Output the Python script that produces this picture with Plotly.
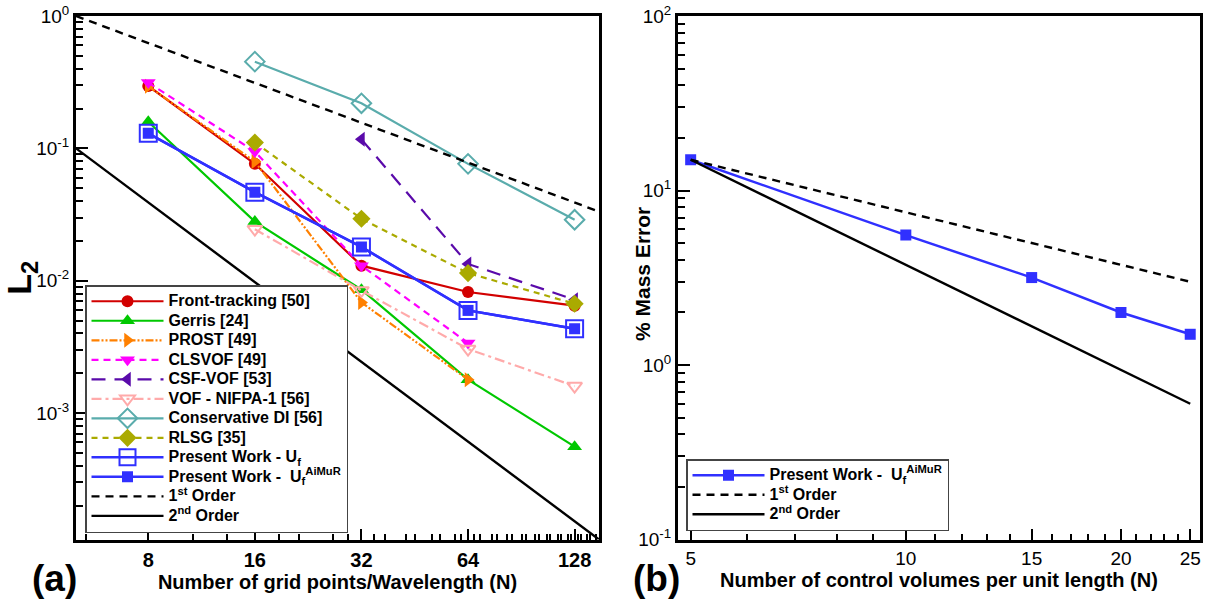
import math
import plotly.graph_objects as go

# ---------------- Panel (a): L2 error vs. grid points per wavelength ----------------
grid_n = [8, 16, 32, 64, 128]
front_tracking = [0.296, 0.0765, 0.0130, 0.00822, 0.00648]
gerris = [0.159, 0.0280, 0.00855, 0.00179, 0.000558]
prost_n = [8, 16, 32, 64]
prost = [0.295, 0.0795, 0.00686, 0.00179]
clsvof_n = [8, 16, 32, 64]
clsvof = [0.314, 0.0946, 0.0130, 0.00339]
csf_vof_n = [32, 64, 128]
csf_vof = [0.117, 0.0134, 0.00719]
nifpa_n = [16, 32, 64, 128]
vof_nifpa = [0.0245, 0.00845, 0.00305, 0.00160]
cons_di_n = [16, 32, 64, 128]
cons_di = [0.452, 0.219, 0.0764, 0.0289]
rlsg_n = [16, 32, 64, 128]
rlsg = [0.1106, 0.0294, 0.01143, 0.0067]
present_uf = [0.130, 0.0467, 0.0180, 0.00597, 0.00434]
present_uf_aimur = [0.130, 0.0467, 0.0180, 0.00597, 0.00434]
order_n_a = [5, 150]
first_order_a = [1.0, 0.0333]
second_order_a = [0.1, 0.000111]

x_a_ticks = [8, 16, 32, 64, 128]
x_a_labels = ["8", "16", "32", "64", "128"]
y_a_decades = [1e-3, 1e-2, 1e-1, 1.0]
y_a_labels = ["10<sup>-3</sup>", "10<sup>-2</sup>", "10<sup>-1</sup>", "10<sup>0</sup>"]

# ---------------- Panel (b): mass error vs. control volumes ----------------
cv_n = [5, 10, 15, 20, 25]
mass_error = [15.0, 5.55, 3.17, 2.0, 1.5]
order_n_b = [5, 25]
first_order_b = [15.0, 3.0]
second_order_b = [15.0, 0.6]

x_b_ticks = [5, 10, 15, 20, 25]
y_b_decades = [0.1, 1.0, 10.0, 100.0]
y_b_labels = ["10<sup>-1</sup>", "10<sup>0</sup>", "10<sup>1</sup>", "10<sup>2</sup>"]

FONT = "Liberation Sans, Arial, Helvetica, sans-serif"
W, H = 1208, 603

RED = "#d20000"
GREEN = "#00c800"
ORANGE = "#ff8000"
MAGENTA = "#ff00ff"
PURPLE = "#5a0aaa"
PINK = "#ffaaaa"
TEAL = "#5aacac"
OLIVE = "#aaaa00"
BLUE = "#3030ff"


def leg(text):
    return '<span style="font-size:16px">' + text + "</span>"


fig = go.Figure()


def series(x, y, name, color, dash, symbol, size, legend="legend", axes=("x", "y"),
           width=2.2, open_marker=False):
    marker = dict(symbol=symbol, size=size, color=color,
                  line=dict(color=color, width=2 if open_marker else 0))
    fig.add_trace(go.Scatter(
        x=x, y=y, name=leg(name), mode="lines+markers" if symbol else "lines",
        line=dict(color=color, width=width, dash=dash),
        marker=marker if symbol else None,
        xaxis=axes[0], yaxis=axes[1], legend=legend,
    ))


series(grid_n, front_tracking, "Front-tracking [50]", RED, "solid", "circle", 12)
series(grid_n, gerris, "Gerris [24]", GREEN, "solid", "triangle-up", 13)
series(prost_n, prost, "PROST [49]", ORANGE, "8px,2px,2px,2px,2px,2px", "triangle-right", 13)
series(clsvof_n, clsvof, "CLSVOF [49]", MAGENTA, "7px,5px", "triangle-down", 13)
series(csf_vof_n, csf_vof, "CSF-VOF [53]", PURPLE, "14px,9px", "triangle-left", 13)
series(nifpa_n, vof_nifpa, "VOF - NIFPA-1 [56]", PINK, "10px,4px,3px,4px",
       "triangle-down-open", 13, open_marker=True)
series(cons_di_n, cons_di, "Conservative DI [56]", TEAL, "solid", "diamond-open", 15,
       open_marker=True)
series(rlsg_n, rlsg, "RLSG [35]", OLIVE, "6px,5px", "diamond", 14)
series(grid_n, present_uf, "Present Work - U<sub>f</sub>", BLUE, "solid", "square-open", 17,
       width=2.5, open_marker=True)
series(grid_n, present_uf_aimur, "Present Work -  U<sub>f</sub><sup>AiMuR</sup>", BLUE,
       "solid", "square", 11, width=2.5)
series(order_n_a, first_order_a, "1<sup>st</sup> Order", "black", "8px,6px", None, 0, width=2.4)
series(order_n_a, second_order_a, "2<sup>nd</sup> Order", "black", "solid", None, 0, width=2.4)

series(cv_n, mass_error, "Present Work -  U<sub>f</sub><sup>AiMuR</sup>", BLUE, "solid",
       "square", 11, legend="legend2", axes=("x2", "y2"), width=2.5)
series(order_n_b, first_order_b, "1<sup>st</sup> Order", "black", "8px,6px", None, 0,
       legend="legend2", axes=("x2", "y2"), width=2.4)
series(order_n_b, second_order_b, "2<sup>nd</sup> Order", "black", "solid", None, 0,
       legend="legend2", axes=("x2", "y2"), width=2.4)

# tick sets: long ticks on multiples of 8, short ones every 8/3 in between
x_a_long = [8 * k for k in range(1, 19)]
x_a_short = [8 * k / 3 for k in range(2, 57) if k % 3]
y_minor = [m * 10.0 ** e for e in range(-4, 2) for m in range(2, 10)]
x_b_minor = [v for v in range(5, 26) if v % 5]

y_dom = [1 - 539.5 / H, 1 - 16 / H]
x_a_range = [math.log10(order_n_a[0]), math.log10(order_n_a[1])]

common_axis = dict(showline=True, linewidth=3, linecolor="black", mirror=True,
                   showgrid=False, zeroline=False, ticks="inside", tickcolor="black",
                   automargin=False)
bold_title = dict(family=FONT, size=20, color="black", weight="bold")

fig.update_layout(
    width=W, height=H, margin=dict(l=0, r=0, t=0, b=0),
    paper_bgcolor="white", plot_bgcolor="white",
    font=dict(family=FONT, color="black"),
    xaxis=dict(type="log", domain=[76 / W, 599 / W], anchor="y", range=x_a_range,
               tickmode="array", tickvals=x_a_ticks, ticktext=x_a_labels,
               ticklen=11, tickwidth=2,
               tickfont=dict(family=FONT, size=20, color="black", weight="bold"),
               minor=dict(tickmode="array", tickvals=x_a_short, ticks="inside",
                          ticklen=6, tickwidth=1.5, tickcolor="black"),
               title=dict(text="Number of grid points/Wavelength (N)", font=bold_title,
                          standoff=4),
               **common_axis),
    # extra long ticks on the unlabelled multiples of 8
    xaxis3=dict(type="log", overlaying="x", anchor="y", side="bottom", range=x_a_range,
                tickmode="array", tickvals=x_a_long, showticklabels=False,
                ticks="inside", ticklen=11, tickwidth=2, tickcolor="black",
                showline=False, showgrid=False, zeroline=False, automargin=False),
    yaxis=dict(type="log", domain=y_dom, anchor="x",
               range=[math.log10(second_order_a[1]), 0],
               tickmode="array", tickvals=y_a_decades, ticktext=y_a_labels,
               ticklen=12, tickwidth=2,
               tickfont=dict(family=FONT, size=19, color="black"),
               minor=dict(tickmode="array", tickvals=y_minor, ticks="inside",
                          ticklen=7, tickwidth=1.5, tickcolor="black"),
               title=dict(text="L<sub>2</sub>",
                          font=dict(family=FONT, size=34, color="black", weight="bold"),
                          standoff=2),
               **common_axis),
    xaxis2=dict(type="log", domain=[678 / W, 1200 / W], anchor="y2",
                range=[math.log10(4.8), math.log10(25.8)],
                tickmode="array", tickvals=x_b_ticks,
                ticklen=11, tickwidth=2,
                tickfont=dict(family=FONT, size=19, color="black"),
                minor=dict(tickmode="array", tickvals=x_b_minor, ticks="inside",
                           ticklen=6, tickwidth=1.5, tickcolor="black"),
                title=dict(text="Number of control volumes per unit length (N)",
                           font=bold_title, standoff=4),
                **common_axis),
    yaxis2=dict(type="log", domain=y_dom, anchor="x2", range=[-1, 2],
                tickmode="array", tickvals=y_b_decades, ticktext=y_b_labels,
                ticklen=12, tickwidth=2,
                tickfont=dict(family=FONT, size=19, color="black"),
                minor=dict(tickmode="array", tickvals=y_minor, ticks="inside",
                           ticklen=7, tickwidth=1.5, tickcolor="black"),
                **common_axis),
    legend=dict(x=85 / W, y=1 - 285 / H, xanchor="left", yanchor="top",
                bgcolor="white", bordercolor="#444", borderwidth=1.5,
                font=dict(family=FONT, size=12.7, color="black", weight="bold"),
                itemwidth=72, tracegroupgap=0),
    legend2=dict(x=686 / W, y=1 - 459 / H, xanchor="left", yanchor="top",
                 bgcolor="white", bordercolor="#444", borderwidth=1.5,
                 font=dict(family=FONT, size=12.7, color="black", weight="bold"),
                 itemwidth=72, tracegroupgap=0),
    annotations=[
        dict(text="% Mass Error", x=643 / W, y=1 - 274 / H, xref="paper", yref="paper",
             textangle=-90, showarrow=False, xanchor="center", yanchor="middle",
             font=dict(family=FONT, size=21, color="black", weight="bold")),
        dict(text="(a)", x=54 / W, y=1 - 578 / H, xref="paper", yref="paper",
             xanchor="center", yanchor="middle", showarrow=False,
             font=dict(family=FONT, size=37, color="black", weight="bold")),
        dict(text="(b)", x=656 / W, y=1 - 578 / H, xref="paper", yref="paper",
             xanchor="center", yanchor="middle", showarrow=False,
             font=dict(family=FONT, size=37, color="black", weight="bold")),
    ],
)

fig.write_html("out.html")
